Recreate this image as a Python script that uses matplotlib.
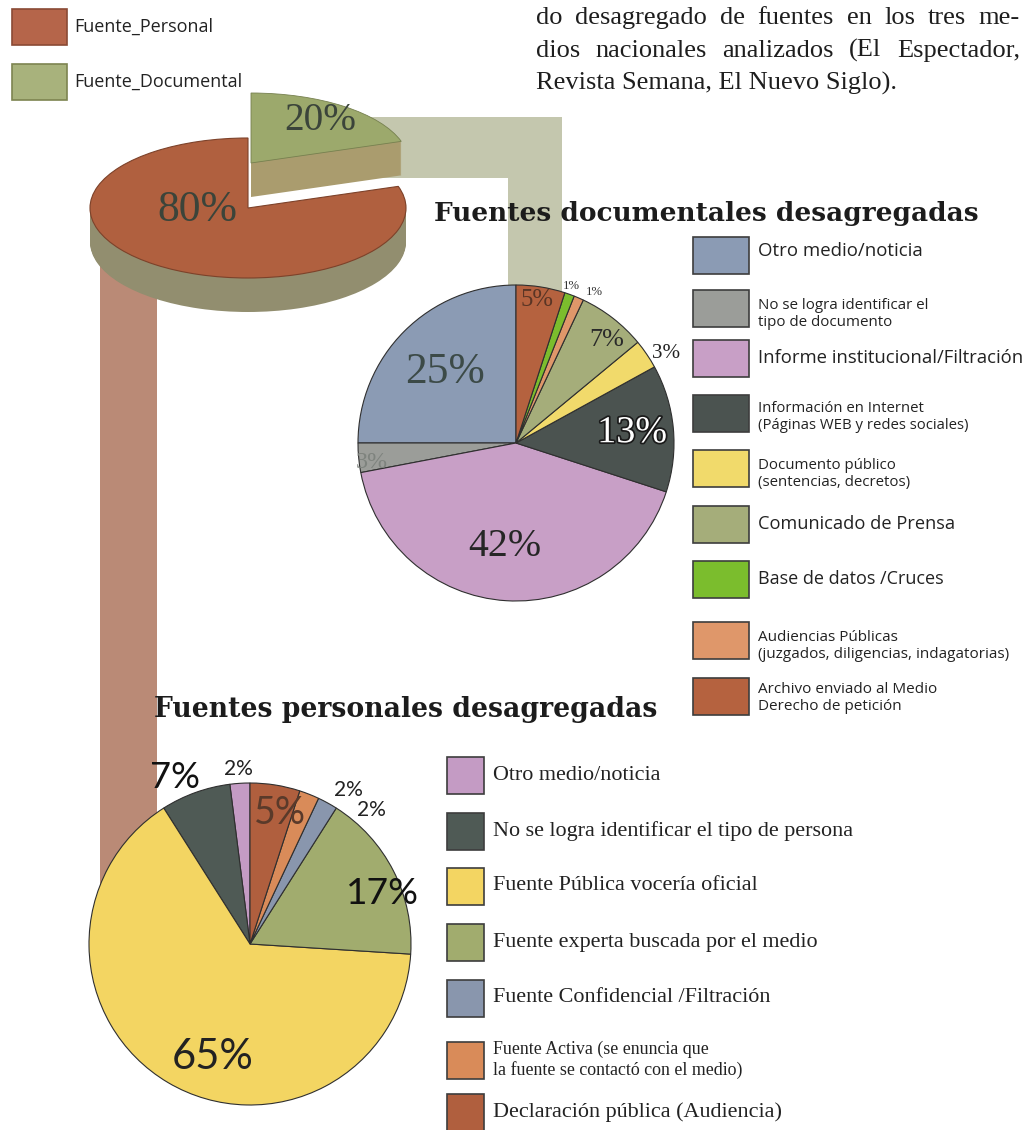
import matplotlib
matplotlib.use('Agg')
import matplotlib.pyplot as plt
from matplotlib.patches import Rectangle, Polygon
import matplotlib.patheffects as pe

# ---------------- data ----------------
top_labels = ['Fuente_Personal', 'Fuente_Documental']
top_values = [80, 20]
top_pct = ['80%', '20%']

doc_labels = ['Otro medio/noticia',
              'No se logra identificar el\ntipo de documento',
              'Informe institucional/Filtración',
              'Información en Internet\n(Páginas WEB y redes sociales)',
              'Documento público\n(sentencias, decretos)',
              'Comunicado de Prensa',
              'Base de datos /Cruces',
              'Audiencias Públicas\n(juzgados, diligencias, indagatorias)',
              'Archivo enviado al Medio\nDerecho de petición']
doc_values = [25, 3, 42, 13, 3, 7, 1, 1, 5]
doc_pct = ['25%', '3%', '42%', '13%', '3%', '7%', '1%', '1%', '5%']
doc_draw_order = [0, 1, 2, 3, 4, 5, 7, 6, 8]   # counter-clockwise from 12 o'clock

per_labels = ['Otro medio/noticia',
              'No se logra identificar el tipo de persona',
              'Fuente Pública vocería oficial',
              'Fuente experta buscada por el medio',
              'Fuente Confidencial /Filtración',
              'Fuente Activa (se enuncia que\nla fuente se contactó con el medio)',
              'Declaración pública (Audiencia)']
per_values = [2, 7, 65, 17, 2, 2, 5]
per_pct = ['2%', '7%', '65%', '17%', '2%', '2%', '5%']

doc_title = 'Fuentes documentales desagregadas'
per_title = 'Fuentes personales desagregadas'
paragraph = ['do desagregado de fuentes en los tres me-',
             'dios nacionales analizados (El Espectador,',
             'Revista Semana, El Nuevo Siglo).']

# ---------------- styles ----------------
top_colors = ['#b0603f', '#9ca96c']
top_side_colors = ['#928e6f', '#aa9c6e']
top_legend_colors = ['#b5654a', '#a8b27c']
top_legend_edges = ['#8a4a35', '#7d8450']
doc_colors = ['#8b9bb4', '#9b9d99', '#c89fc6', '#4b5350', '#f1da6b',
              '#a5ad7a', '#7bbd2d', '#df976a', '#b5623f']
per_colors = ['#c49bc4', '#4f5a55', '#f3d562', '#a1ac6e', '#8996ad',
              '#d98b59', '#b05f3e']

W, H = 1034, 1130
fig = plt.figure(figsize=(W / 100, H / 100), dpi=100)
renderer = fig.canvas.get_renderer()

SANS = ['Open Sans', 'DejaVu Sans']
SERIF = ['Liberation Serif', 'DejaVu Serif']
TSERIF = ['DejaVu Serif']


def px_axes(x0, y0, w, h):
    ax = fig.add_axes([x0 / W, 1 - (y0 + h) / H, w / W, h / H])
    ax.set_axis_off()
    return ax


def fit_text(ax, x, y, s, width, family, weight='normal', **kw):
    t = ax.text(x, y, s, fontsize=20, family=family, weight=weight, **kw)
    bb = t.get_window_extent(renderer)
    t.set_fontsize(20 * width / bb.width)
    return t


def justified_line(ax, x0, x1, y, line, fs, family, **kw):
    words = line.split(' ')
    ts = [ax.text(0, y, w, fontsize=fs, family=family, va='baseline', **kw) for w in words]
    widths = [t.get_window_extent(renderer).width for t in ts]
    gap = (x1 - x0 - sum(widths)) / (len(words) - 1)
    x = x0
    for t, w in zip(ts, widths):
        t.set_x(x)
        x += w + gap


# ---------------- background: connector bands ----------------
bg = px_axes(0, 0, W, H)
bg.set_xlim(0, W)
bg.set_ylim(H, 0)
bg.add_patch(Rectangle((100, 240), 57, 660, facecolor='#ba8a76', edgecolor='none'))
bg.add_patch(Polygon([(330, 117), (562, 117), (562, 300), (508, 300), (508, 178), (330, 178)],
                     closed=True, facecolor='#c4c7ae', edgecolor='none'))

# ---------------- 3D top pie ----------------
cx, cy, rx, ry, depth = 248, 208, 158, 70, 34
lift, shift = 45, 3
y0 = cy - ry - lift - 6
y1 = cy + ry + depth + 6
ax3 = px_axes(cx - rx, y0, 2 * rx, y1 - y0)
gx, gy = shift / rx, lift / ry
for k in range(depth, 0, -1):
    off = k / ry
    w_, _ = ax3.pie(top_values, colors=top_side_colors, startangle=90,
                    center=(0, -off), wedgeprops=dict(linewidth=0))
    w_[1].set_visible(False)
    w_, _ = ax3.pie(top_values, colors=top_side_colors, startangle=90,
                    center=(gx, gy - off), wedgeprops=dict(linewidth=0))
    w_[0].set_visible(False)
w_, _ = ax3.pie(top_values, colors=top_colors, startangle=90, center=(0, 0),
                wedgeprops=dict(linewidth=0.8, edgecolor='#7d422a'))
w_[1].set_visible(False)
w_, _ = ax3.pie(top_values, colors=top_colors, startangle=90, center=(gx, gy),
                wedgeprops=dict(linewidth=0.6, edgecolor='#76804f'))
w_[0].set_visible(False)
ax3.set_aspect('auto')
ax3.set_xlim(-1, 1)
ax3.set_ylim(-(y1 - cy) / ry, (cy - y0) / ry)

# ---------------- documental pie ----------------
dcx, dcy, dr = 516, 443, 158
axd = px_axes(dcx - dr - 3, dcy - dr - 3, 2 * dr + 6, 2 * dr + 6)
axd.pie([doc_values[i] for i in doc_draw_order],
        colors=[doc_colors[i] for i in doc_draw_order],
        startangle=90, counterclock=True,
        wedgeprops=dict(edgecolor='#2f2f2f', linewidth=0.8))
axd.set_xlim(-(dr + 3) / dr, (dr + 3) / dr)
axd.set_ylim(-(dr + 3) / dr, (dr + 3) / dr)

# ---------------- personal pie ----------------
pcx, pcy, pr = 250, 944, 161
axp = px_axes(pcx - pr - 3, pcy - pr - 3, 2 * pr + 6, 2 * pr + 6)
axp.pie(per_values, colors=per_colors, startangle=90, counterclock=True,
        wedgeprops=dict(edgecolor='#2f2f2f', linewidth=0.8))
axp.set_xlim(-(pr + 3) / pr, (pr + 3) / pr)
axp.set_ylim(-(pr + 3) / pr, (pr + 3) / pr)

# ---------------- overlay: texts & legends ----------------
fg = px_axes(0, 0, W, H)
fg.set_xlim(0, W)
fg.set_ylim(H, 0)

# paragraph (justified, last line flush left)
t_last = fit_text(fg, 536, 24 + 33 * 2, paragraph[2], 362, SERIF, va='baseline', color='#1e1e1e')
pfs = t_last.get_fontsize()
for i in range(2):
    justified_line(fg, 536, 1020, 24 + 33 * i, paragraph[i], pfs, SERIF, color='#1e1e1e')

# top legend
for i, (lab, col) in enumerate(zip(top_labels, top_legend_colors)):
    yc = 27 + 55 * i
    fg.add_patch(Rectangle((12, yc - 18), 55, 36, facecolor=col,
                           edgecolor=top_legend_edges[i], lw=1.2))
t = fit_text(fg, 74, 27, top_labels[0], 139, SANS, va='center', color='#222222')
fg.text(74, 82, top_labels[1], fontsize=t.get_fontsize(), family=SANS, va='center', color='#222222')

# top pie labels
top_pct_pos = [(197, 210, 80), (320, 121, 72)]
for s, (x, y, w) in zip(top_pct, top_pct_pos):
    fit_text(fg, x, y, s, w, SERIF, ha='center', va='center', color='#3b443a')

# titles
fit_text(fg, 434, 221, doc_title, 544, TSERIF, weight='bold', va='baseline', color='#1c1c1c')
fit_text(fg, 154, 717, per_title, 502, TSERIF, weight='bold', va='baseline', color='#1c1c1c')

# documental legend
doc_box_y = [255, 308, 358, 413, 468, 524, 579, 640, 696]
doc_text_w = [164, 170, 264, 209, 151, 197, 186, 249, 178]
doc_text_dy = [-4, 6, 0, 4, 6, 0, 0, 6, 2]
for i, lab in enumerate(doc_labels):
    yc = doc_box_y[i]
    fg.add_patch(Rectangle((693, yc - 18.5), 56, 37, facecolor=doc_colors[i],
                           edgecolor='#3d3d3d', lw=1.2))
    fit_text(fg, 758, yc + doc_text_dy[i], lab, doc_text_w[i], SANS, va='center',
             color='#222222', linespacing=1.25)

# personal legend
per_box_y = [775, 831, 886, 942, 998, 1060, 1112]
ref = fit_text(fg, 493, per_box_y[3], per_labels[3], 325, SERIF, va='center', color='#222222')
fs = ref.get_fontsize()
for i, lab in enumerate(per_labels):
    yc = per_box_y[i]
    fg.add_patch(Rectangle((447, yc - 18.5), 37, 37, facecolor=per_colors[i],
                           edgecolor='#3d3d3d', lw=1.2))
    if i == 3:
        continue
    if '\n' in lab:
        fit_text(fg, 493, yc, lab, 250, SERIF, va='center', color='#222222', linespacing=1.2)
    else:
        fg.text(493, yc, lab, fontsize=fs, family=SERIF, va='center', color='#222222')

# documental percentage labels
doc_pct_style = [  # x, y, width, color
    (445, 372, 80, '#3c4a47'),
    (372, 462, 32, '#7e837e'),
    (505, 547, 73, '#262626'),
    (632, 433, 70, 'white'),
    (666, 353, 28, '#222222'),
    (607, 340, 35, '#2a2a2a'),
    (571, 286, 17, '#333333'),
    (594, 292, 17, '#333333'),
    (537, 300, 33, '#5a3525'),
]
for i, s in enumerate(doc_pct):
    x, y, w, c = doc_pct_style[i]
    t = fit_text(fg, x, y, s, w, SERIF, ha='center', va='center', color=c)
    if c == 'white':
        t.set_path_effects([pe.withStroke(linewidth=2.5, foreground='#1a1a1a')])

# personal percentage labels
per_pct_style = [
    (238, 769, 29, '#222222'),
    (175, 777, 50, '#111111'),
    (213, 1057, 82, '#222222'),
    (382, 893, 73, '#111111'),
    (371, 810, 29, '#222222'),
    (348, 790, 29, '#222222'),
    (280, 813, 52, '#5a3a2a'),
]
for i, s in enumerate(per_pct):
    x, y, w, c = per_pct_style[i]
    fit_text(fg, x, y, s, w, ['Lato', 'DejaVu Sans'], ha='center', va='center', color=c)

fig.savefig('out.png', dpi=100, facecolor='white')
